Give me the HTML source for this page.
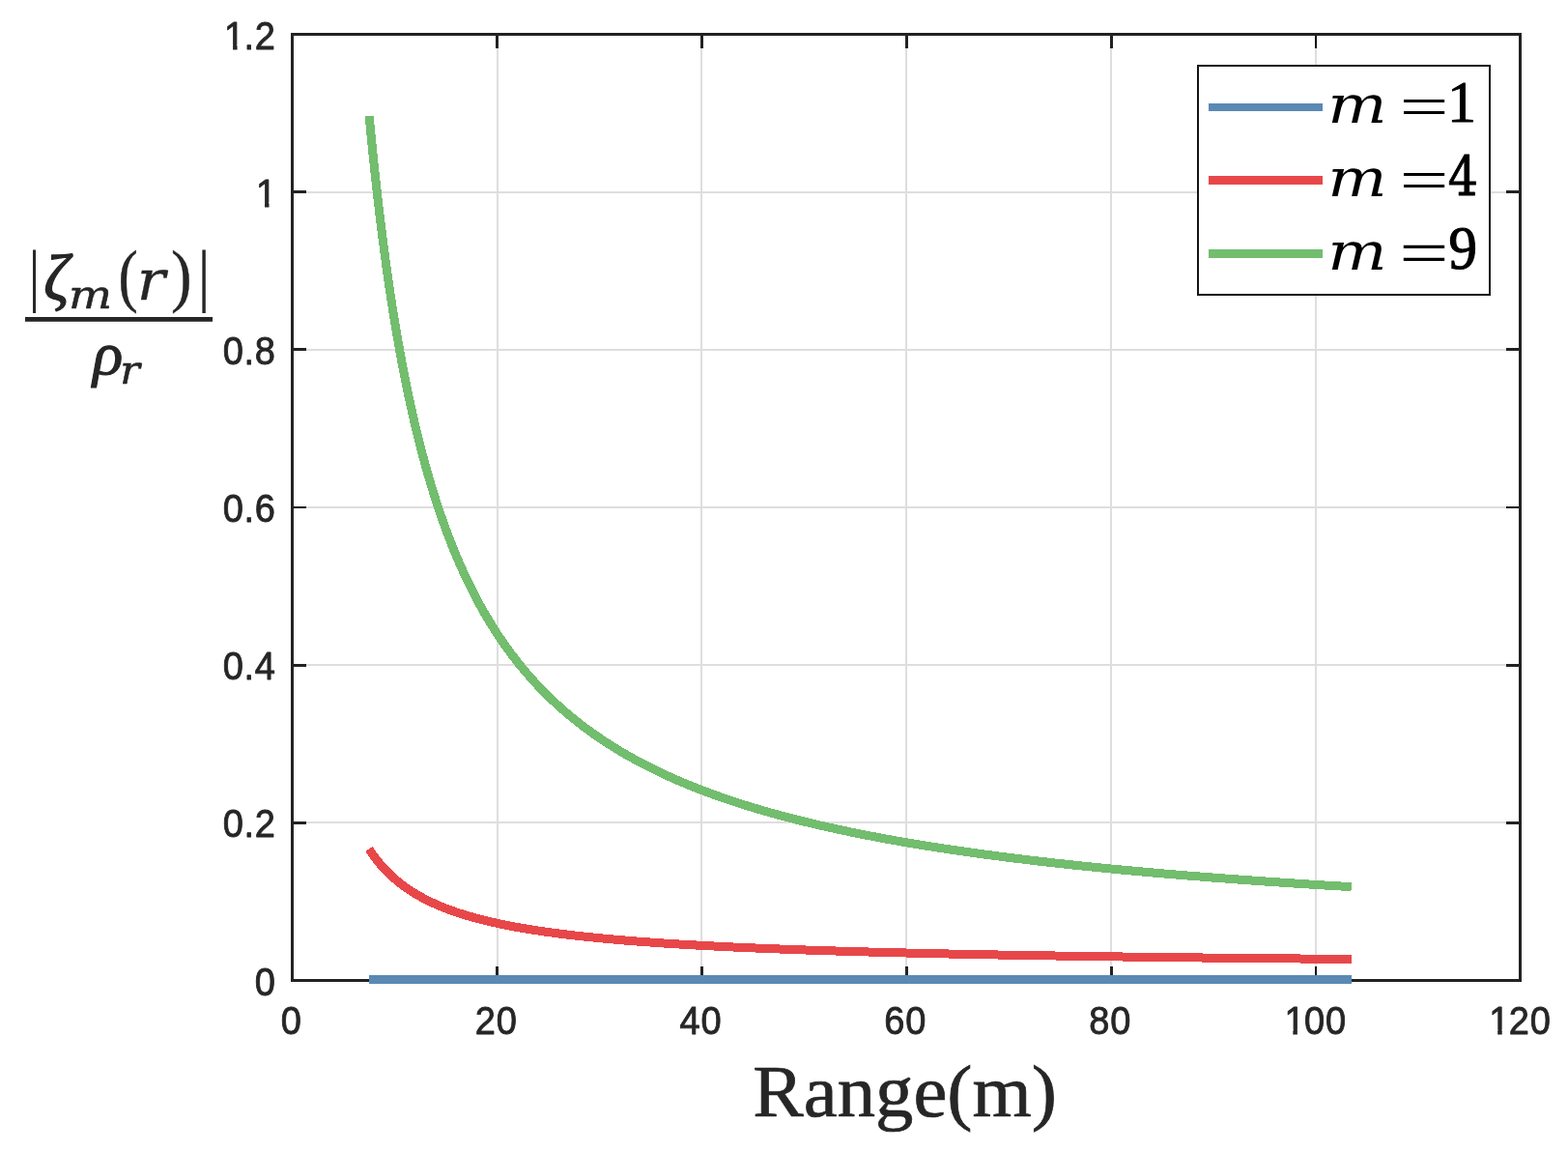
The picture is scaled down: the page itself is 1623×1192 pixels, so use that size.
<!DOCTYPE html>
<html lang="en"><head><meta charset="utf-8"><title>Range plot</title>
<style>
html,body{margin:0;padding:0;background:#fff;}
body{width:1623px;height:1192px;overflow:hidden;}
svg{display:block;}
.sn{font-family:"Liberation Sans",sans-serif;}
.mi{font-family:"Liberation Serif",serif;font-style:italic;}
.mr{font-family:"Liberation Serif",serif;}
.dr{font-family:"DejaVu Serif","Liberation Serif",serif;}
.di{font-family:"DejaVu Serif","Liberation Serif",serif;font-style:italic;}
</style></head><body>
<svg width="1623" height="1192" viewBox="0 0 1623 1192" role="img">
<rect x="0" y="0" width="1623" height="1192" fill="#ffffff"/>
<g fill="#dedede" shape-rendering="crispEdges">
<rect x="514" y="37" width="2" height="976"/>
<rect x="725" y="37" width="2" height="976"/>
<rect x="937" y="37" width="2" height="976"/>
<rect x="1149" y="37" width="2" height="976"/>
<rect x="1361" y="37" width="2" height="976"/>
<rect x="304" y="850" width="1268" height="2"/>
<rect x="304" y="687" width="1268" height="2"/>
<rect x="304" y="524" width="1268" height="2"/>
<rect x="304" y="361" width="1268" height="2"/>
<rect x="304" y="198" width="1268" height="2"/>
</g>
<g fill="#222222" shape-rendering="crispEdges">
<rect x="301" y="34" width="1274" height="3"/>
<rect x="301" y="1013" width="1274" height="3"/>
<rect x="301" y="34" width="3" height="982"/>
<rect x="1572" y="34" width="3" height="982"/>
<rect x="513" y="37" width="3" height="13"/>
<rect x="513" y="1000" width="3" height="13"/>
<rect x="725" y="37" width="3" height="13"/>
<rect x="725" y="1000" width="3" height="13"/>
<rect x="937" y="37" width="3" height="13"/>
<rect x="937" y="1000" width="3" height="13"/>
<rect x="1149" y="37" width="3" height="13"/>
<rect x="1149" y="1000" width="3" height="13"/>
<rect x="1361" y="37" width="2" height="13" fill="#0e0e0e"/>
<rect x="1361" y="1000" width="2" height="13" fill="#0e0e0e"/>
<rect x="304" y="850" width="13" height="3"/>
<rect x="1559" y="850" width="13" height="3"/>
<rect x="304" y="687" width="13" height="3"/>
<rect x="1559" y="687" width="13" height="3"/>
<rect x="304" y="524" width="13" height="2" fill="#0e0e0e"/>
<rect x="1559" y="524" width="13" height="2" fill="#0e0e0e"/>
<rect x="304" y="360" width="13" height="3"/>
<rect x="1559" y="360" width="13" height="3"/>
<rect x="304" y="197" width="13" height="3"/>
<rect x="1559" y="197" width="13" height="3"/>
</g>
<rect x="382" y="1009" width="1017" height="9" fill="#5a89b4" shape-rendering="crispEdges"/>
<g fill="none" stroke-width="9.00" stroke-linejoin="round" stroke-linecap="butt" shape-rendering="crispEdges">
<path stroke="#e8474a" d="M381.94 878.50 L382.99 880.10 L384.05 881.68 L385.13 883.24 L386.22 884.78 L387.32 886.30 L388.45 887.80 L389.58 889.28 L390.73 890.75 L391.90 892.19 L393.08 893.61 L394.27 895.02 L395.49 896.40 L396.71 897.77 L397.96 899.12 L399.22 900.45 L400.50 901.77 L401.79 903.07 L403.10 904.35 L404.43 905.62 L405.78 906.86 L407.14 908.10 L408.53 909.31 L409.93 910.51 L411.35 911.70 L412.78 912.87 L414.24 914.02 L415.72 915.16 L417.21 916.28 L418.73 917.39 L420.26 918.49 L421.82 919.57 L423.39 920.63 L424.99 921.69 L426.61 922.72 L428.25 923.75 L429.91 924.76 L431.59 925.76 L433.30 926.75 L435.03 927.72 L436.78 928.68 L438.55 929.63 L440.35 930.56 L442.17 931.49 L444.01 932.40 L445.88 933.30 L447.78 934.18 L449.70 935.06 L451.64 935.92 L453.61 936.78 L455.61 937.62 L457.63 938.45 L459.68 939.27 L461.76 940.08 L463.86 940.88 L465.99 941.67 L468.15 942.45 L470.34 943.21 L472.56 943.97 L474.80 944.72 L477.08 945.46 L479.38 946.19 L481.72 946.91 L484.09 947.62 L486.49 948.32 L488.92 949.01 L491.38 949.69 L493.87 950.37 L496.40 951.03 L498.96 951.69 L501.56 952.33 L504.19 952.97 L506.85 953.60 L509.55 954.23 L512.29 954.84 L515.06 955.45 L517.87 956.05 L520.71 956.64 L523.59 957.22 L526.52 957.80 L529.47 958.36 L532.47 958.93 L535.51 959.48 L538.59 960.02 L541.71 960.56 L544.87 961.10 L548.07 961.62 L551.31 962.14 L554.60 962.65 L557.93 963.15 L561.30 963.65 L564.72 964.14 L568.19 964.63 L571.70 965.11 L575.25 965.58 L578.86 966.05 L582.51 966.51 L586.20 966.96 L589.95 967.41 L593.75 967.85 L597.60 968.29 L601.50 968.72 L605.45 969.15 L609.45 969.57 L613.50 969.98 L617.61 970.39 L621.77 970.80 L625.99 971.19 L630.26 971.59 L634.59 971.98 L638.98 972.36 L643.42 972.74 L647.93 973.11 L652.49 973.48 L657.11 973.84 L661.80 974.20 L666.55 974.56 L671.35 974.90 L676.23 975.25 L681.16 975.59 L686.17 975.93 L691.23 976.26 L696.37 976.59 L701.57 976.91 L706.84 977.23 L712.18 977.54 L717.60 977.85 L723.08 978.16 L728.64 978.46 L734.27 978.76 L739.97 979.05 L745.75 979.35 L751.60 979.63 L757.54 979.92 L763.55 980.20 L769.64 980.47 L775.81 980.74 L782.06 981.01 L788.39 981.28 L794.81 981.54 L801.32 981.80 L807.91 982.05 L814.58 982.31 L821.35 982.55 L828.20 982.80 L835.15 983.04 L842.18 983.28 L849.31 983.52 L856.53 983.75 L863.85 983.98 L871.27 984.21 L878.78 984.43 L886.39 984.65 L894.11 984.87 L901.92 985.08 L909.84 985.29 L917.86 985.50 L925.99 985.71 L934.23 985.92 L942.57 986.12 L951.03 986.32 L959.60 986.51 L968.28 986.71 L977.07 986.90 L985.98 987.09 L995.01 987.27 L1004.16 987.46 L1013.43 987.64 L1022.82 987.82 L1032.33 987.99 L1041.97 988.17 L1051.74 988.34 L1061.64 988.51 L1071.67 988.68 L1081.83 988.84 L1092.12 989.00 L1102.55 989.17 L1113.12 989.32 L1123.83 989.48 L1134.68 989.64 L1145.67 989.79 L1156.81 989.94 L1168.10 990.09 L1179.53 990.24 L1191.12 990.38 L1202.85 990.52 L1214.75 990.67 L1226.80 990.81 L1239.01 990.94 L1251.38 991.08 L1263.91 991.21 L1276.61 991.35 L1289.48 991.48 L1302.52 991.61 L1315.73 991.73 L1329.12 991.86 L1342.68 991.98 L1356.42 992.10 L1370.34 992.23 L1384.45 992.34 L1398.74 992.46"/>
<path stroke="#72bd6e" d="M382.14 120.03 L383.20 131.20 L384.28 142.24 L385.37 153.13 L386.47 163.87 L387.58 174.48 L388.71 184.95 L389.86 195.28 L391.02 205.48 L392.19 215.55 L393.38 225.49 L394.59 235.29 L395.81 244.97 L397.05 254.52 L398.30 263.95 L399.57 273.26 L400.86 282.44 L402.16 291.51 L403.48 300.46 L404.82 309.29 L406.17 318.00 L407.55 326.61 L408.94 335.10 L410.34 343.48 L411.77 351.75 L413.22 359.91 L414.68 367.97 L416.16 375.92 L417.67 383.77 L419.19 391.52 L420.73 399.17 L422.29 406.71 L423.88 414.16 L425.48 421.52 L427.11 428.77 L428.75 435.93 L430.42 443.00 L432.11 449.98 L433.82 456.87 L435.55 463.66 L437.31 470.37 L439.09 476.99 L440.89 483.53 L442.72 489.98 L444.57 496.35 L446.45 502.63 L448.35 508.83 L450.27 514.95 L452.22 520.99 L454.20 526.96 L456.20 532.84 L458.23 538.65 L460.28 544.39 L462.36 550.04 L464.47 555.63 L466.61 561.14 L468.77 566.58 L470.96 571.95 L473.19 577.25 L475.44 582.49 L477.72 587.65 L480.03 592.75 L482.37 597.78 L484.74 602.74 L487.15 607.64 L489.58 612.48 L492.05 617.25 L494.55 621.97 L497.08 626.62 L499.64 631.21 L502.24 635.74 L504.88 640.21 L507.55 644.62 L510.25 648.98 L512.99 653.28 L515.76 657.52 L518.58 661.71 L521.42 665.84 L524.31 669.92 L527.24 673.95 L530.20 677.93 L533.20 681.85 L536.24 685.72 L539.32 689.55 L542.45 693.32 L545.61 697.04 L548.81 700.72 L552.06 704.35 L555.35 707.93 L558.68 711.46 L562.06 714.95 L565.48 718.39 L568.95 721.79 L572.46 725.14 L576.02 728.45 L579.63 731.72 L583.28 734.95 L586.98 738.13 L590.73 741.27 L594.53 744.37 L598.38 747.43 L602.28 750.46 L606.24 753.44 L610.24 756.38 L614.30 759.29 L618.41 762.15 L622.57 764.98 L626.79 767.78 L631.07 770.54 L635.40 773.26 L639.79 775.94 L644.23 778.60 L648.74 781.21 L653.30 783.80 L657.93 786.35 L662.61 788.86 L667.36 791.35 L672.17 793.80 L677.04 796.22 L681.98 798.61 L686.98 800.97 L692.05 803.29 L697.19 805.59 L702.39 807.86 L707.66 810.10 L713.00 812.31 L718.41 814.49 L723.90 816.64 L729.45 818.76 L735.08 820.86 L740.78 822.93 L746.56 824.98 L752.42 826.99 L758.35 828.98 L764.36 830.95 L770.44 832.89 L776.61 834.80 L782.86 836.69 L789.20 838.56 L795.61 840.40 L802.11 842.22 L808.70 844.01 L815.37 845.78 L822.13 847.53 L828.98 849.26 L835.92 850.96 L842.96 852.64 L850.08 854.30 L857.30 855.94 L864.61 857.56 L872.02 859.16 L879.53 860.73 L887.14 862.29 L894.85 863.82 L902.66 865.34 L910.57 866.84 L918.58 868.31 L926.71 869.77 L934.93 871.21 L943.27 872.63 L951.72 874.04 L960.28 875.42 L968.95 876.79 L977.73 878.14 L986.64 879.47 L995.65 880.79 L1004.79 882.08 L1014.05 883.37 L1023.43 884.63 L1032.93 885.88 L1042.56 887.11 L1052.32 888.33 L1062.21 889.53 L1072.22 890.72 L1082.37 891.89 L1092.65 893.05 L1103.06 894.19 L1113.62 895.32 L1124.31 896.43 L1135.15 897.53 L1146.12 898.61 L1157.24 899.69 L1168.51 900.74 L1179.93 901.79 L1191.49 902.82 L1203.21 903.84 L1215.09 904.84 L1227.12 905.83 L1239.31 906.81 L1251.66 907.78 L1264.17 908.74 L1276.85 909.68 L1289.69 910.61 L1302.71 911.53 L1315.89 912.44 L1329.25 913.33 L1342.79 914.22 L1356.50 915.09 L1370.40 915.96 L1384.47 916.81 L1398.74 917.65"/>
</g>
<defs><clipPath id="c1"><rect x="253.24" y="168.77" width="140.00" height="40.23"/><rect x="274.04" y="208.00" width="4.41" height="20.00"/><rect x="286.00" y="208.00" width="120.00" height="20.00"/></clipPath><clipPath id="c2"><rect x="220.30" y="5.60" width="140.00" height="40.40"/><rect x="241.10" y="45.00" width="4.41" height="20.00"/><rect x="253.00" y="45.00" width="120.00" height="20.00"/></clipPath><clipPath id="c3"><rect x="1317.63" y="1025.10" width="140.00" height="39.90"/><rect x="1338.42" y="1064.00" width="4.41" height="20.00"/><rect x="1351.00" y="1064.00" width="120.00" height="20.00"/></clipPath><clipPath id="c4"><rect x="1529.46" y="1025.10" width="140.00" height="39.90"/><rect x="1550.26" y="1064.00" width="4.41" height="20.00"/><rect x="1562.00" y="1064.00" width="120.00" height="20.00"/></clipPath></defs>
<g class="sn" font-size="39.8" fill="#262626" stroke="#262626" stroke-width="0.85" stroke-linejoin="round">
<text transform="scale(0.9550 1)" x="276.07" y="1029.60">0</text>
<text transform="scale(0.9550 1)" x="241.58 264.37 276.07" y="866.43">0.2</text>
<text transform="scale(0.9550 1)" x="241.58 264.37 276.07" y="703.27">0.4</text>
<text transform="scale(0.9550 1)" x="241.58 264.37 276.07" y="540.10">0.6</text>
<text transform="scale(0.9550 1)" x="241.58 264.37 276.07" y="376.93">0.8</text>
<g clip-path="url(#c1)"><text transform="scale(0.9550 1)" x="277.49" y="213.77">1</text></g>
<g clip-path="url(#c2)"><text transform="scale(0.9550 1)" x="243.00 264.37 276.07" y="50.60">1.2</text></g>
<text transform="scale(0.9550 1)" x="304.53" y="1070.10">0</text>
<text transform="scale(0.9550 1)" x="514.85 537.85" y="1070.10">20</text>
<text transform="scale(0.9550 1)" x="736.67 759.66" y="1070.10">40</text>
<text transform="scale(0.9550 1)" x="958.48 981.48" y="1070.10">60</text>
<text transform="scale(0.9550 1)" x="1180.30 1203.29" y="1070.10">80</text>
<g clip-path="url(#c3)"><text transform="scale(0.9550 1)" x="1392.03 1413.61 1436.60" y="1070.10">100</text></g>
<g clip-path="url(#c4)"><text transform="scale(0.9550 1)" x="1613.85 1635.42 1658.42" y="1070.10">120</text></g>
</g>
<text class="mr" font-size="77.0" fill="#262626" stroke="#262626" stroke-width="0.70" stroke-linejoin="miter" stroke-miterlimit="2" text-anchor="middle" transform="translate(936.60 1154.60) scale(1.0220 1)">Range(m)</text>
<g fill="#262626" color="#262626">
<rect x="26" y="328" width="194" height="4.8"/>
<g><text class="mr" font-size="100" transform="matrix(0.6024 0 0 0.7261 29.47 309.38)">|</text><text class="mi" font-size="100" transform="matrix(0.6508 0 0 0.6846 45.35 310.38)" stroke="currentColor" stroke-width="1.95" stroke-linejoin="round">ζ</text><text class="di" font-size="100" transform="matrix(0.4749 0 0 0.4032 70.96 318.80)" stroke="currentColor" stroke-width="1.37" stroke-linejoin="round">m</text><text class="mr" font-size="100" transform="matrix(0.6074 0 0 0.7240 122.53 309.44)" stroke="currentColor" stroke-width="0.60" stroke-linejoin="round">(</text><text class="di" font-size="100" transform="matrix(0.6126 0 0 0.5795 141.74 309.85)" stroke="currentColor" stroke-width="0.50" stroke-linejoin="round">r</text><text class="mr" font-size="100" transform="matrix(0.6463 0 0 0.7240 177.02 309.44)" stroke="currentColor" stroke-width="0.58" stroke-linejoin="round">)</text><text class="mr" font-size="100" transform="matrix(0.6827 0 0 0.7261 204.17 309.38)">|</text></g>
<g><text class="mi" font-size="100" transform="matrix(0.6504 0 0 0.6289 96.10 387.06)" stroke="currentColor" stroke-width="1.72" stroke-linejoin="round">ρ</text><text class="di" font-size="100" transform="matrix(0.4289 0 0 0.4032 124.18 396.80)" stroke="currentColor" stroke-width="1.44" stroke-linejoin="round">r</text></g>
</g>
<rect x="1240" y="68" width="302" height="237" fill="#ffffff" stroke="#141414" stroke-width="2" shape-rendering="crispEdges"/>
<g shape-rendering="crispEdges">
<rect x="1251" y="107" width="118" height="8" fill="#5a89b4"/>
<rect x="1251" y="182" width="118" height="9" fill="#e8474a"/>
<rect x="1251" y="258" width="118" height="9" fill="#72bd6e"/>
</g>
<g fill="#000000" color="#000000">
<g><text class="di" font-size="100" transform="matrix(0.6468 0 0 0.5504 1374.25 127.20)">m</text><text class="mr" font-size="100" transform="matrix(0.9058 0 0 0.6040 1448.44 130.60)"> =</text><text class="mr" font-size="100" transform="matrix(0.6036 0 0 0.6067 1497.99 125.55)" stroke="currentColor" stroke-width="1.49" stroke-linejoin="round">1</text></g>
<g><text class="di" font-size="100" transform="matrix(0.6468 0 0 0.5504 1374.25 203.20)">m</text><text class="mr" font-size="100" transform="matrix(0.9058 0 0 0.6040 1448.44 206.60)"> =</text><text class="dr" font-size="100" transform="matrix(0.4917 0 0 0.5565 1498.84 201.55)" stroke="currentColor" stroke-width="1.72" stroke-linejoin="round">4</text></g>
<g><text class="di" font-size="100" transform="matrix(0.6468 0 0 0.5504 1374.25 279.20)">m</text><text class="mr" font-size="100" transform="matrix(0.9112 0 0 0.6480 1448.16 283.52)"> =</text><text class="mr" font-size="100" transform="matrix(0.5882 0 0 0.6281 1499.50 277.99)" stroke="currentColor" stroke-width="1.97" stroke-linejoin="round">9</text></g>
</g>
</svg>
</body></html>
